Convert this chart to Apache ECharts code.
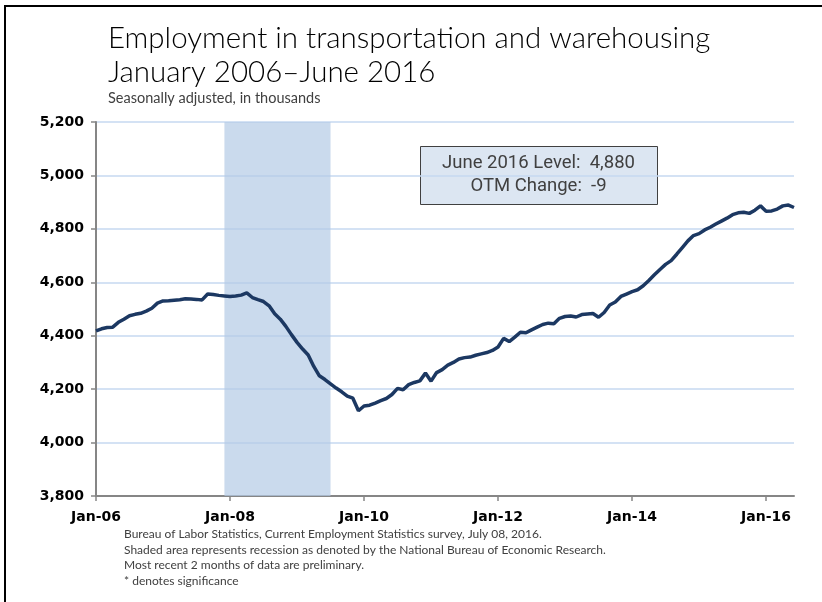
<!DOCTYPE html>
<html>
<head>
<meta charset="utf-8">
<script src="https://cdn.jsdelivr.net/npm/echarts@6/dist/echarts.min.js"></script>
<style>
    html, body { margin: 0; padding: 0; background: #fff; }
    #chart { width: 822px; height: 602px; }
</style>
</head>
<body>
<div id="chart"></div>
<script>
// employment, thousands, Jan 2006 - Jun 2016 (monthly)
var values2006 = [4418, 4426, 4431, 4432, 4450, 4462, 4475, 4480, 4484, 4492, 4503, 4522];
var values2007 = [4530, 4531, 4533, 4535, 4538, 4537, 4536, 4534, 4556, 4554, 4551, 4549];
var values2008 = [4547, 4549, 4552, 4560, 4543, 4535, 4528, 4512, 4482, 4462, 4435, 4404];
var values2009 = [4375, 4350, 4328, 4285, 4250, 4236, 4220, 4204, 4190, 4174, 4166, 4119];
var values2010 = [4137, 4140, 4148, 4157, 4165, 4180, 4203, 4198, 4217, 4225, 4231, 4260];
var values2011 = [4230, 4262, 4273, 4290, 4300, 4313, 4318, 4320, 4327, 4332, 4337, 4345];
var values2012 = [4358, 4390, 4378, 4395, 4413, 4411, 4422, 4432, 4442, 4447, 4445, 4465];
var values2013 = [4472, 4474, 4470, 4479, 4481, 4483, 4469, 4487, 4515, 4526, 4547, 4556];
var values2014 = [4565, 4572, 4587, 4607, 4628, 4648, 4667, 4681, 4705, 4730, 4755, 4775];
var values2015 = [4782, 4796, 4806, 4818, 4829, 4840, 4853, 4860, 4862, 4858, 4870, 4886];
var values2016 = [4866, 4867, 4874, 4886, 4889, 4880];

var monthNames = ['Jan', 'Feb', 'Mar', 'Apr', 'May', 'Jun', 'Jul', 'Aug', 'Sep', 'Oct', 'Nov', 'Dec'];
var yearLabels = ['06', '07', '08', '09', '10', '11', '12', '13', '14', '15', '16'];
var yTicks = [3800, 4000, 4200, 4400, 4600, 4800, 5000, 5200];
var recession = ['Dec-07', 'Jul-09'];

var boxLines = ['June 2016 Level:  4,880', 'OTM Change:  -9'];
var titleLines = ['Employment in transportation and warehousing', 'January 2006\u2013June 2016'];
var subTitle = 'Seasonally adjusted, in thousands';
var notes = [
    'Bureau of Labor Statistics, Current Employment Statistics survey, July 08, 2016.',
    'Shaded area represents recession as denoted by the National Bureau of Economic Research.',
    'Most recent 2 months of data are preliminary.',
    '* denotes significance'
];

var values = [].concat(values2006, values2007, values2008, values2009, values2010, values2011,
    values2012, values2013, values2014, values2015, values2016);

var months = [];
for (var i = 0; i < values.length; i++) {
    months.push(monthNames[i % 12] + '-' + yearLabels[Math.floor(i / 12)]);
}

var chart = echarts.init(document.getElementById('chart'));

var graphics = [
    // frame
    { type: 'line', shape: { x1: 5, y1: 6, x2: 5, y2: 602 }, style: { stroke: '#000', lineWidth: 2 } },
    { type: 'line', shape: { x1: 4, y1: 6, x2: 822, y2: 6 }, style: { stroke: '#000', lineWidth: 2 } },
    { type: 'text', left: 108, top: 23, style: { text: titleLines[0], font: '300 29.5px Lato', fill: '#000' } },
    { type: 'text', left: 108, top: 57, style: { text: titleLines[1], font: '300 29.5px Lato', fill: '#000' } },
    { type: 'text', left: 108, top: 91, style: { text: subTitle, font: '14.5px Lato', fill: '#404040' } },
    {
        type: 'group', left: 420, top: 146,
        children: [
            { type: 'rect', shape: { x: 0, y: 0, width: 237, height: 58 }, style: { fill: '#dce6f2', stroke: '#404040', lineWidth: 1 } },
            { type: 'text', x: 118, y: 17, style: { text: boxLines[0], font: '18.5px Roboto', fill: '#404040', textAlign: 'center', textVerticalAlign: 'middle' } },
            { type: 'text', x: 118, y: 40, style: { text: boxLines[1], font: '18.5px Roboto', fill: '#404040', textAlign: 'center', textVerticalAlign: 'middle' } }
        ]
    }
];
for (var n = 0; n < notes.length; n++) {
    graphics.push({ type: 'text', left: 124, top: 528 + n * 15.7, style: { text: notes[n], font: '12px Lato', fill: '#404040' } });
}

var option = {
    animation: false,
    grid: { left: 96, right: 28, top: 122, bottom: 106 },
    xAxis: {
        type: 'category',
        data: months,
        boundaryGap: false,
        axisLine: { lineStyle: { color: '#868686', width: 2 } },
        axisTick: {
            interval: function (idx) { return idx % 24 === 0; },
            length: 5,
            lineStyle: { color: '#868686', width: 1.5 }
        },
        axisLabel: {
            interval: function (idx) { return idx % 24 === 0; },
            margin: 14,
            color: '#000',
            fontFamily: 'DejaVu Sans',
            fontWeight: 'bold',
            fontSize: 14
        },
        splitLine: { show: false }
    },
    yAxis: {
        type: 'value',
        min: yTicks[0],
        max: yTicks[yTicks.length - 1],
        interval: 200,
        axisLine: { show: true, lineStyle: { color: '#868686', width: 2 } },
        axisTick: { show: true, length: 5, lineStyle: { color: '#868686', width: 1.5 } },
        axisLabel: {
            margin: 12,
            color: '#000',
            fontFamily: 'DejaVu Sans',
            fontWeight: 'bold',
            fontSize: 14,
            formatter: function (v) { return v.toLocaleString('en-US'); }
        },
        splitLine: { lineStyle: { color: '#c6d9f1', width: 1.5 } }
    },
    series: [{
        type: 'line',
        data: values,
        showSymbol: false,
        lineStyle: { color: '#1c3862', width: 3.5 },
        z: 3,
        markArea: {
            silent: true,
            itemStyle: { color: 'rgba(180,203,230,0.7)' },
            data: [[{ xAxis: recession[0] }, { xAxis: recession[1] }]]
        }
    }],
    graphic: graphics
};

chart.setOption(option);
</script>
</body>
</html>
